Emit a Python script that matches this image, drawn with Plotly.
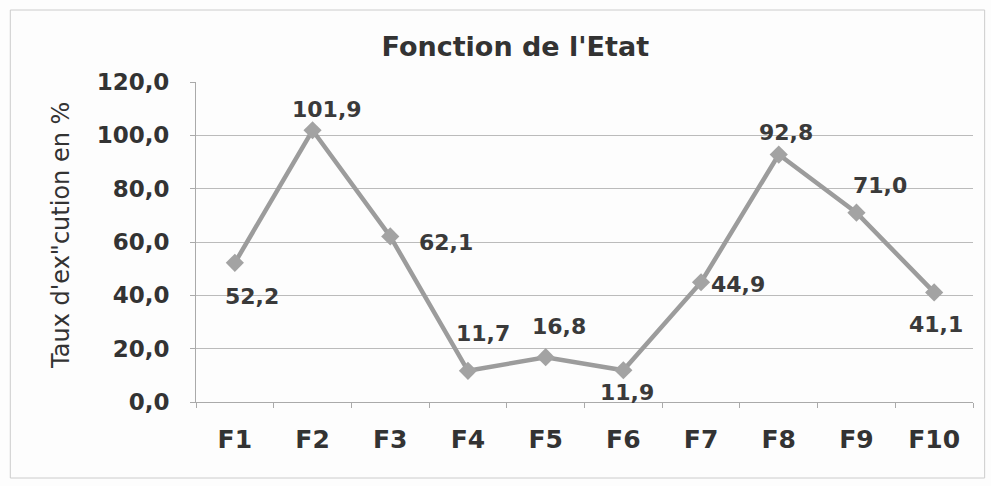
import plotly.graph_objects as go

categories = ["F1", "F2", "F3", "F4", "F5", "F6", "F7", "F8", "F9", "F10"]
values = [52.2, 101.9, 62.1, 11.7, 16.8, 11.9, 44.9, 92.8, 71.0, 41.1]
tick_vals = [0, 20, 40, 60, 80, 100, 120]
tick_text = ["0,0", "20,0", "40,0", "60,0", "80,0", "100,0", "120,0"]

# label offsets in pixels (style only)
label_dx = [17, 14, 56, 15, 13, 4, 37, 7, 24, 2]
label_dy = [-34, 21, -6, 37, 31, -22, -2, 22, 27, -32]

labels = [f"<b>{v:.1f}</b>".replace(".", ",") for v in values]

fig = go.Figure()
fig.add_trace(go.Scatter(
    x=categories, y=values, mode="lines+markers",
    line=dict(color="#9c9c9c", width=4.5),
    marker=dict(symbol="diamond", size=14, color="#a3a3a3"),
    cliponaxis=False, showlegend=False,
))

annotations = [
    dict(x=c, y=v, xref="x", yref="y", text=t, showarrow=False,
         xshift=dx, yshift=dy, xanchor="center", yanchor="middle",
         font=dict(family="DejaVu Sans", size=22, color="#3a3a3a"))
    for c, v, t, dx, dy in zip(categories, values, labels, label_dx, label_dy)
]
annotations.append(dict(
    x=-0.1737, y=0.519, xref="paper", yref="paper", text="Taux d'ex\"cution en %",
    textangle=-90, showarrow=False, xanchor="center", yanchor="middle",
    font=dict(family="DejaVu Sans", size=24, color="#333333")))

fig.update_layout(
    width=991, height=486,
    margin=dict(l=196, r=18, t=82, b=84),
    paper_bgcolor="#fdfdfd", plot_bgcolor="#fdfdfd",
    title=dict(text="<b>Fonction de l'Etat</b>", x=0.52, xanchor="center", y=0.905, yanchor="middle",
               font=dict(family="DejaVu Sans", size=27, color="#333333")),
    xaxis=dict(type="category", range=[-0.5, len(categories) - 0.5],
               showgrid=False, showline=True, linecolor="#aaaaaa",
               ticks="outside", ticklen=5, tickcolor="#aaaaaa", tickson="boundaries",
               automargin=False, ticklabelstandoff=15,
               tickfont=dict(family="DejaVu Sans", size=25, color="#333333"),
               tickprefix="<b>", ticksuffix="</b>"),
    yaxis=dict(range=[0, 120], tickvals=tick_vals, ticktext=[f"<b>{t}</b>" for t in tick_text],
               showgrid=True, gridcolor="#bbbbbb", gridwidth=1, showline=True, linecolor="#aaaaaa",
               ticks="outside", ticklen=5, tickcolor="#aaaaaa", zeroline=False,
               automargin=False, ticklabelstandoff=16,
               tickfont=dict(family="DejaVu Sans", size=23, color="#333333")),
    annotations=annotations,
    shapes=[dict(type="rect", xref="paper", yref="paper", x0=-0.239, x1=1.015, y0=-0.2375, y1=1.225,
                 line=dict(color="#cccccc", width=1))],
)

fig.write_html("out.html", config={"displayModeBar": False},
               post_script="document.body.style.margin='0';")
